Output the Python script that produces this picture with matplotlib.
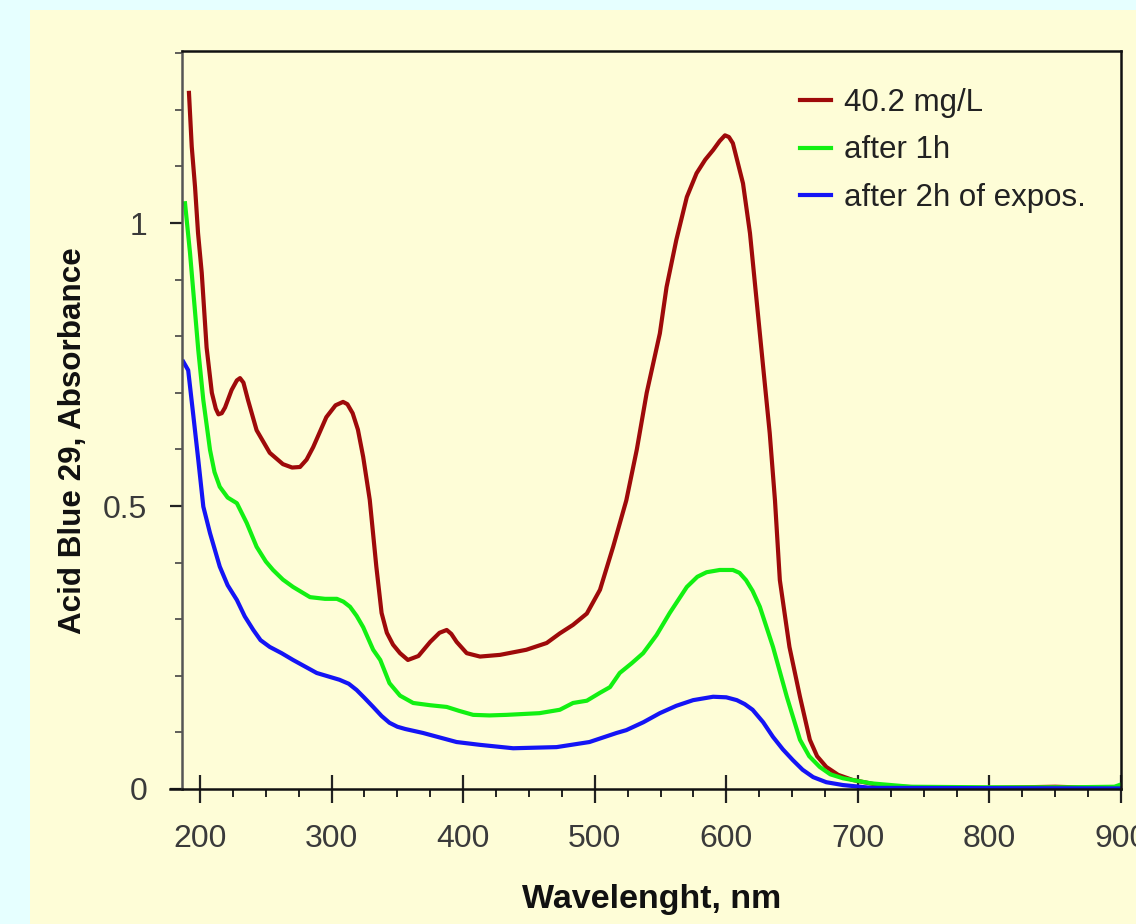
import matplotlib
matplotlib.use("Agg")
import matplotlib.pyplot as plt
from matplotlib.patches import Rectangle
from matplotlib.ticker import MultipleLocator, FixedLocator

# ---- data ----
red_wl = [191.6, 193.7, 196.2, 198.5, 201.3, 205, 209, 212, 214, 216.5, 219, 224, 228, 230.4, 233, 236.5,
          243, 253, 263, 270, 276, 281, 286, 296, 303, 308.7, 312, 316, 320, 324, 329, 334, 338, 342,
          346.7, 352, 358, 366, 375, 382, 387.5, 391, 395, 402.7, 412.8, 428, 448, 463.5, 473.5, 483.5,
          494, 504, 514, 524, 532, 539.5, 549.5, 554.6, 562, 570, 577.4, 584, 590, 595, 599, 602, 605,
          612.7, 618, 623, 628, 633, 637, 640.7, 648, 656, 663.5, 669, 676, 685, 696, 720, 760, 800, 850,
          880, 900]
red_abs = [1.23, 1.135, 1.064, 0.982, 0.912, 0.78, 0.70, 0.672, 0.662, 0.664, 0.674, 0.705, 0.722, 0.726,
           0.718, 0.687, 0.634, 0.594, 0.574, 0.568, 0.569, 0.582, 0.604, 0.657, 0.678, 0.684, 0.680, 0.664,
           0.635, 0.587, 0.511, 0.393, 0.311, 0.276, 0.255, 0.240, 0.228, 0.235, 0.26, 0.276, 0.281, 0.274,
           0.26, 0.24, 0.234, 0.237, 0.246, 0.258, 0.275, 0.29, 0.31, 0.352, 0.428, 0.51, 0.60, 0.70, 0.805,
           0.887, 0.97, 1.046, 1.088, 1.112, 1.129, 1.145, 1.155, 1.152, 1.141, 1.07, 0.982, 0.864, 0.746,
           0.629, 0.51, 0.369, 0.251, 0.163, 0.087, 0.058, 0.039, 0.025, 0.016, 0.005, 0.002, 0.002, 0.004,
           0.002, 0.001]

green_wl = [188.6, 192.4, 195, 198.7, 202.5, 207.6, 211, 215, 221, 228, 235.5, 243, 250, 255.5, 263,
            270.7, 283.6, 295, 304, 309, 314, 319, 324, 331.6, 337, 344, 352, 362, 375, 387.5, 397, 407.6,
            420, 433, 458, 473.5, 483.5, 494, 504, 511.6, 519, 528, 536.8, 547, 557, 570, 578, 585, 595,
            605, 610, 615, 620, 625.5, 635.5, 646, 656, 663, 671, 679, 688.6, 710, 740, 800, 860, 895, 900]
green_abs = [1.035, 0.947, 0.876, 0.775, 0.687, 0.599, 0.560, 0.534, 0.515, 0.505, 0.47, 0.428, 0.402,
             0.387, 0.370, 0.357, 0.339, 0.336, 0.336, 0.331, 0.322, 0.306, 0.286, 0.246, 0.228, 0.187,
             0.165, 0.152, 0.148, 0.145, 0.138, 0.131, 0.130, 0.131, 0.134, 0.14, 0.152, 0.156, 0.17, 0.18,
             0.205, 0.222, 0.24, 0.272, 0.311, 0.357, 0.375, 0.383, 0.387, 0.387, 0.382, 0.369, 0.350, 0.322,
             0.251, 0.163, 0.087, 0.058, 0.039, 0.026, 0.019, 0.01, 0.004, 0.003, 0.003, 0.004, 0.008]

blue_wl = [187.3, 191, 195, 198.7, 202.5, 207.6, 215, 221, 228, 234, 240.5, 246, 253, 262, 270.7, 288.7,
           306, 313, 319, 325, 331.6, 338, 344, 350, 356, 369.5, 395, 412.8, 438, 471, 496, 516.6, 524,
           537, 549.5, 562, 574.8, 590, 600, 608, 614, 620, 628, 635.5, 643, 650.6, 658, 666, 676, 688.6,
           710, 900]
blue_abs = [0.755, 0.74, 0.658, 0.581, 0.499, 0.452, 0.393, 0.360, 0.334, 0.305, 0.281, 0.263, 0.251,
            0.240, 0.228, 0.205, 0.193, 0.186, 0.175, 0.161, 0.145, 0.129, 0.117, 0.110, 0.106, 0.099,
            0.083, 0.078, 0.072, 0.074, 0.083, 0.099, 0.104, 0.118, 0.134, 0.147, 0.157, 0.163, 0.162,
            0.157, 0.150, 0.14, 0.118, 0.092, 0.070, 0.051, 0.034, 0.021, 0.012, 0.007, 0.002, 0.001]

labels = ["40.2 mg/L", "after 1h", "after 2h of expos."]
x_ticks = [200, 300, 400, 500, 600, 700, 800, 900]
y_ticks = [0, 0.5, 1]
y_tick_labels = ["0", "0.5", "1"]

# ---- figure ----
W, H = 1136, 924
fig = plt.figure(figsize=(W / 100, H / 100), dpi=100)
fig.patch.set_facecolor("#E6FFFF")
panel = Rectangle((30 / W, 0), 1 - 30 / W, 1 - 10 / H, transform=fig.transFigure,
                  facecolor="#FEFDD7", edgecolor="none", zorder=-10)
fig.add_artist(panel)

ax = fig.add_axes([182 / W, 1 - 789 / H, (1121 - 182) / W, (789 - 51) / H])
ax.set_zorder(1)
ax.set_facecolor("#FEFDD7")

ax.plot(red_wl, red_abs, color="#9E0A0A", lw=3.0, label=labels[0], solid_joinstyle="round")
ax.plot(green_wl, green_abs, color="#12F012", lw=3.0, label=labels[1], solid_joinstyle="round")
ax.plot(blue_wl, blue_abs, color="#1414F5", lw=3.0, label=labels[2], solid_joinstyle="round")

ax.set_xlim(186.3, 900)
ax.set_ylim(0, 1.304)

tick_font = ["Liberation Sans Narrow", "Liberation Sans", "DejaVu Sans"]
ax.xaxis.set_major_locator(FixedLocator(x_ticks))
ax.xaxis.set_minor_locator(MultipleLocator(25))
ax.yaxis.set_major_locator(FixedLocator(y_ticks))
ax.yaxis.set_minor_locator(MultipleLocator(0.1))
ax.set_xticklabels([str(t) for t in x_ticks])
ax.set_yticklabels(y_tick_labels)
for lab in ax.get_xticklabels() + ax.get_yticklabels():
    lab.set_fontfamily(tick_font)
    lab.set_fontsize(23)
    lab.set_color("#3a3a3a")

ax.tick_params(axis="x", which="major", direction="inout", length=20, width=1.6, pad=15, color="#222")
ax.tick_params(axis="x", which="minor", direction="out", length=6, width=1.4, color="#222")
ax.tick_params(axis="y", which="major", direction="out", length=9, width=1.6, pad=16, color="#222")
ax.tick_params(axis="y", which="minor", direction="out", length=5, width=1.2, color="#444")

for side in ["top", "right", "bottom"]:
    ax.spines[side].set_linewidth(1.8)
    ax.spines[side].set_color("#111")
ax.spines["left"].set_linewidth(1.8)
ax.spines["left"].set_color("#555")
ax.axhline(0, xmin=-0.013, xmax=0, color="#111", lw=1.8, clip_on=False)

ax.set_xlabel("Wavelenght, nm", fontsize=24.5, fontweight="bold", family="Liberation Sans",
              color="#111", labelpad=22)
ax.set_ylabel("Acid Blue 29, Absorbance", fontsize=22.6, fontweight="bold", family="Liberation Sans",
              color="#111")
ax.yaxis.set_label_coords((88 - 182) / (1121 - 182), (789 - 441) / (789 - 51))

leg = ax.legend(loc="upper left", bbox_to_anchor=((800 - 182) / (1121 - 182), (789 - 88) / (789 - 51)),
                frameon=False, prop={"family": "Liberation Sans", "size": 22.5},
                handlelength=1.0, handletextpad=0.42, labelspacing=0.56, borderpad=0, borderaxespad=0)
for t in leg.get_texts():
    t.set_color("#222")

fig.savefig("out.png", dpi=100, facecolor=fig.get_facecolor())
